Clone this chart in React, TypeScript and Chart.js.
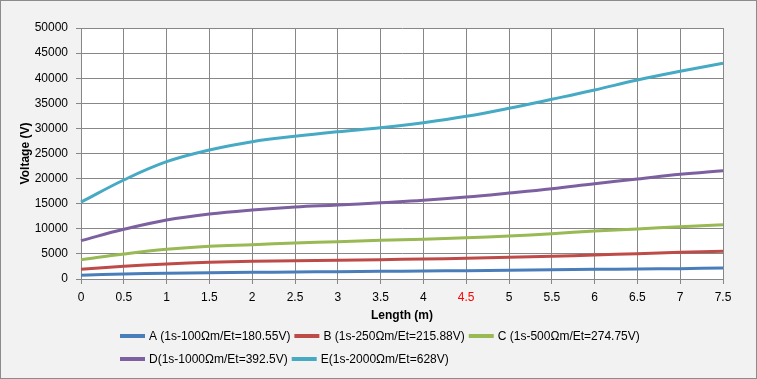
import React, { useEffect, useRef } from "react";
import { Chart, registerables } from "chart.js";

Chart.register(...registerables);

const lengths = ["0", "0.5", "1", "1.5", "2", "2.5", "3", "3.5", "4", "4.5", "5", "5.5", "6", "6.5", "7", "7.5"];
const highlightedLength = "4.5";

const seriesA = [750, 1000, 1130, 1260, 1330, 1390, 1460, 1530, 1590, 1660, 1730, 1860, 1930, 1990, 2060, 2190];
const seriesB = [1950, 2530, 2990, 3320, 3530, 3650, 3720, 3850, 3980, 4120, 4320, 4520, 4780, 5040, 5320, 5520];
const seriesC = [3850, 4980, 5910, 6510, 6840, 7170, 7430, 7700, 7900, 8230, 8570, 9030, 9560, 9960, 10420, 10820];
const seriesD = [7650, 9900, 11750, 12950, 13750, 14340, 14740, 15200, 15680, 16330, 17130, 17990, 18990, 19920, 20850, 21580];
const seriesE = [15300, 19720, 23370, 25700, 27350, 28430, 29340, 30140, 31140, 32400, 34000, 35800, 37650, 39640, 41370, 42970];

const seriesNames = [
  "A (1s-100Ωm/Et=180.55V)",
  "B (1s-250Ωm/Et=215.88V)",
  "C (1s-500Ωm/Et=274.75V)",
  "D(1s-1000Ωm/Et=392.5V)",
  "E(1s-2000Ωm/Et=628V)",
];
const seriesColors = ["#4A7EBB", "#BE4B48", "#98B954", "#7D60A0", "#46AAC5"];

const yMin = 0;
const yMax = 50000;
const yStep = 5000;

const FONT = '"Liberation Sans", Arial, sans-serif';
const GRID = "#878787";

const framePlugin = {
  id: "frame",
  beforeDraw(chart: any) {
    const { ctx, width, height, chartArea } = chart;
    ctx.save();
    ctx.fillStyle = "#F2F2F2";
    ctx.fillRect(0, 0, width, height);
    ctx.fillStyle = "#FFFFFF";
    ctx.fillRect(chartArea.left, chartArea.top, chartArea.right - chartArea.left, chartArea.bottom - chartArea.top);
    ctx.restore();
  },
  afterDraw(chart: any) {
    const { ctx, width, height } = chart;
    ctx.save();
    ctx.strokeStyle = "#8C8C8C";
    ctx.lineWidth = 1;
    ctx.strokeRect(0.5, 0.5, width - 1, height - 1);

    // legend
    ctx.font = `12px ${FONT}`;
    ctx.textBaseline = "middle";
    ctx.textAlign = "left";
    const startX = 120;
    const rowYs = [336, 359];
    const maxRight = 680;
    let x = startX;
    let row = 0;
    chart.data.datasets.forEach((ds: any) => {
      const tw = ctx.measureText(ds.label).width;
      const itemW = 29 + tw + 4;
      if (x + itemW > maxRight && x > startX) {
        row++;
        x = startX;
      }
      const y = rowYs[row] ?? rowYs[rowYs.length - 1] + 23 * (row - 1);
      ctx.strokeStyle = ds.borderColor;
      ctx.lineWidth = 4;
      ctx.lineCap = "butt";
      ctx.beginPath();
      ctx.moveTo(x, y);
      ctx.lineTo(x + 25, y);
      ctx.stroke();
      ctx.fillStyle = "#000";
      ctx.fillText(ds.label, x + 29, y + 1);
      x += itemW;
    });
    ctx.restore();
  },
};

export default function App() {
  const ref = useRef<HTMLCanvasElement>(null);

  useEffect(() => {
    document.body.style.margin = "0";
    const canvas = ref.current;
    if (!canvas) return;
    const allSeries = [seriesA, seriesB, seriesC, seriesD, seriesE];
    const chart = new Chart(canvas, {
      type: "line",
      data: {
        labels: lengths,
        datasets: allSeries.map((data, i) => ({
          label: seriesNames[i],
          data,
          borderColor: seriesColors[i],
          backgroundColor: seriesColors[i],
          borderWidth: 3,
          pointRadius: 0,
          tension: 0.4,
          fill: false,
        })),
      },
      options: {
        responsive: false,
        animation: false,
        devicePixelRatio: 1,
        layout: { padding: { left: 0, right: 34, top: 28, bottom: 50 } },
        plugins: {
          legend: { display: false },
          tooltip: { enabled: false },
        },
        scales: {
          x: {
            type: "category",
            offset: false,
            grid: { color: GRID, lineWidth: 1, drawTicks: true, tickLength: 5, tickColor: GRID },
            border: { color: GRID, width: 1 },
            ticks: {
              autoSkip: false,
              maxRotation: 0,
              padding: 6,
              font: { family: FONT, size: 12 },
              color: (c: any) => (lengths[c.index] === highlightedLength ? "#FF0000" : "#000000"),
            },
            title: {
              display: true,
              text: "Length (m)",
              font: { family: FONT, size: 12, weight: "bold" },
              color: "#000",
              padding: { top: 0, bottom: 6 },
            },
            afterFit(s: any) {
              s.height = 50;
            },
          },
          y: {
            min: yMin,
            max: yMax,
            grid: { color: GRID, lineWidth: 1, drawTicks: true, tickLength: 5, tickColor: GRID },
            border: { color: GRID, width: 1 },
            ticks: {
              stepSize: yStep,
              padding: 8,
              font: { family: FONT, size: 12 },
              color: "#000",
              callback: (v: any) => String(v),
            },
            title: {
              display: true,
              text: "Voltage (V)",
              font: { family: FONT, size: 12, weight: "bold" },
              color: "#000",
              padding: { top: 18, bottom: 0 },
            },
            afterFit(s: any) {
              s.width = 81;
            },
          },
        },
      },
      plugins: [framePlugin],
    });
    return () => chart.destroy();
  }, []);

  return (
    <div style={{ width: 757, height: 379 }}>
      <canvas ref={ref} width={757} height={379} style={{ display: "block", width: 757, height: 379 }} />
    </div>
  );
}
